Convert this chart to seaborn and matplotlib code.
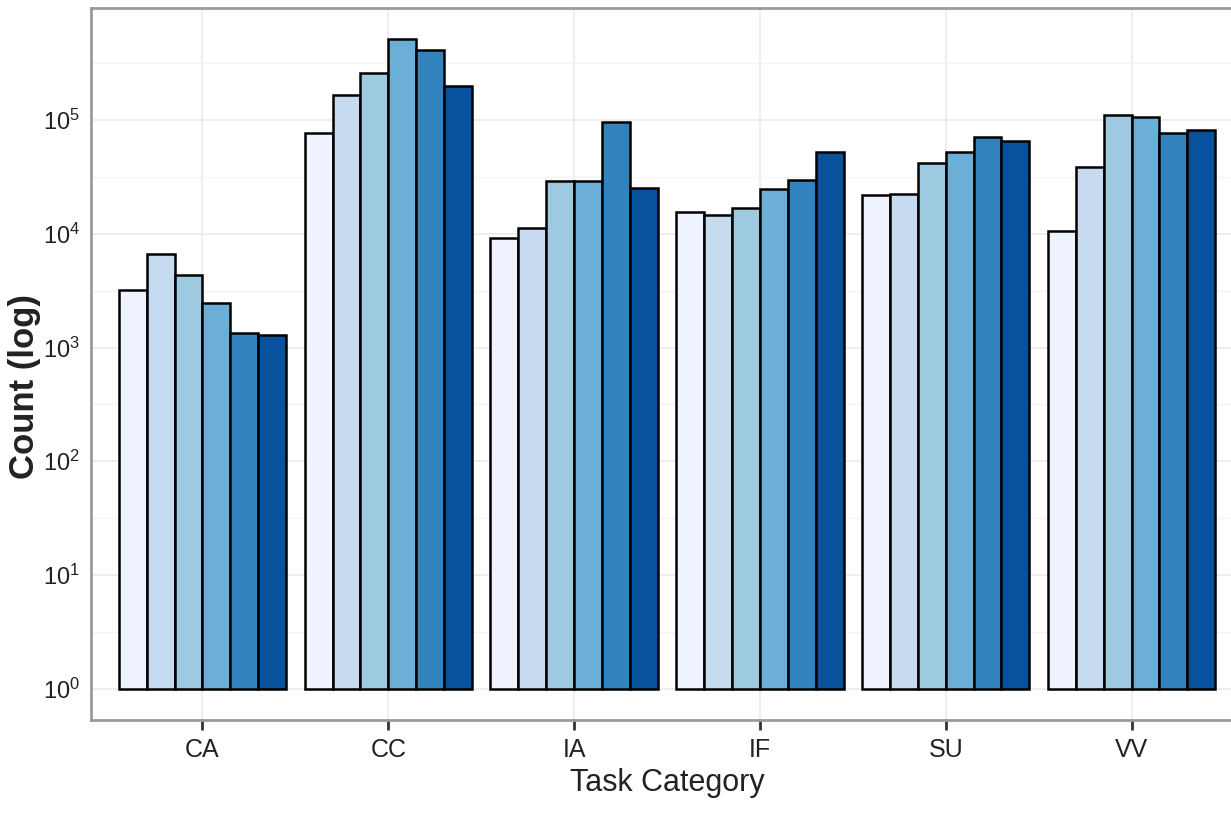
import numpy as np
import pandas as pd
import matplotlib
matplotlib.use("Agg")
import matplotlib.pyplot as plt
import matplotlib.ticker as mticker
import seaborn as sns

# Task categories and the six grouped series (counts per category)
categories = ["CA", "CC", "IA", "IF", "SU", "VV"]
series = ["S1", "S2", "S3", "S4", "S5", "S6"]
s1 = [3200, 77000, 9200, 15500, 22000, 10600]
s2 = [6600, 166000, 11200, 14600, 22300, 38600]
s3 = [4300, 259000, 29000, 16900, 42000, 110000]
s4 = [2450, 516000, 29000, 24700, 52000, 107000]
s5 = [1350, 412000, 96000, 29600, 71000, 77000]
s6 = [1300, 198000, 25300, 52000, 65000, 81000]
palette = ["#EFF3FF", "#C6DBEF", "#9ECAE1", "#6BAED6", "#3182BD", "#08519C"]

rows = []
for name, vals in zip(series, [s1, s2, s3, s4, s5, s6]):
    for cat, v in zip(categories, vals):
        rows.append({"Task Category": cat, "series": name, "count": v})
df = pd.DataFrame(rows)

sns.set_theme(style="white")
plt.rcParams["font.family"] = ["Liberation Sans Narrow", "Liberation Sans", "DejaVu Sans"]
plt.rcParams["mathtext.fontset"] = "custom"
plt.rcParams["mathtext.rm"] = "Liberation Sans"
plt.rcParams["mathtext.it"] = "Liberation Sans"
plt.rcParams["mathtext.default"] = "regular"

fig = plt.figure(figsize=(12.31, 8.35), dpi=100)
ax = fig.add_axes([91 / 1231, 1 - 720 / 835, (1243 - 91) / 1231, (720 - 8) / 835])
ax.set_yscale("log")

sns.barplot(data=df, x="Task Category", y="count", hue="series",
            order=categories, hue_order=series, palette=palette, saturation=1,
            width=0.9, edgecolor="black", linewidth=1.8,
            legend=False, ax=ax, zorder=3)

# bars rise from 10^0 on the log axis
for p in ax.patches:
    h = p.get_height()
    p.set_y(1)
    p.set_height(h - 1)

ax.set_ylim(10 ** -0.275, 10 ** 5.985)
ax.set_xlim(-0.6, 5.6)

ax.yaxis.set_major_locator(mticker.FixedLocator([10.0 ** k for k in range(6)]))
ax.yaxis.set_major_formatter(mticker.FixedFormatter([f"$10^{{{k}}}$" for k in range(6)]))
ax.yaxis.set_minor_locator(mticker.FixedLocator([10.0 ** (k + 0.5) for k in range(-1, 6)]))
ax.yaxis.set_minor_formatter(mticker.NullFormatter())

ax.grid(True, which="major", axis="both", color="#EBEBEB", linewidth=1.2, zorder=0)
ax.grid(True, which="minor", axis="y", color="#F3F3F3", linewidth=1.0, zorder=0)
ax.set_axisbelow(True)

ax.tick_params(axis="y", which="major", length=5, width=2.2, color="#333333",
               labelsize=17, pad=3, labelcolor="#222222")
ax.tick_params(axis="y", which="minor", length=0)
ax.tick_params(axis="x", which="major", length=7, width=2, color="#333333",
               labelsize=18, pad=6, labelcolor="#222222", bottom=True)

for side, sp in ax.spines.items():
    sp.set_color("#9A9A9A")
    sp.set_linewidth(2.0)
    sp.set_visible(True)

ax.set_xlabel("Task Category", fontsize=22, color="#222222", labelpad=4)
ax.set_ylabel("Count (log)", fontsize=25, fontweight="bold", color="#222222",
              family=["Liberation Sans", "DejaVu Sans"])
ax.yaxis.set_label_coords(-0.043, 0.468)

fig.savefig("out.png", dpi=100)
